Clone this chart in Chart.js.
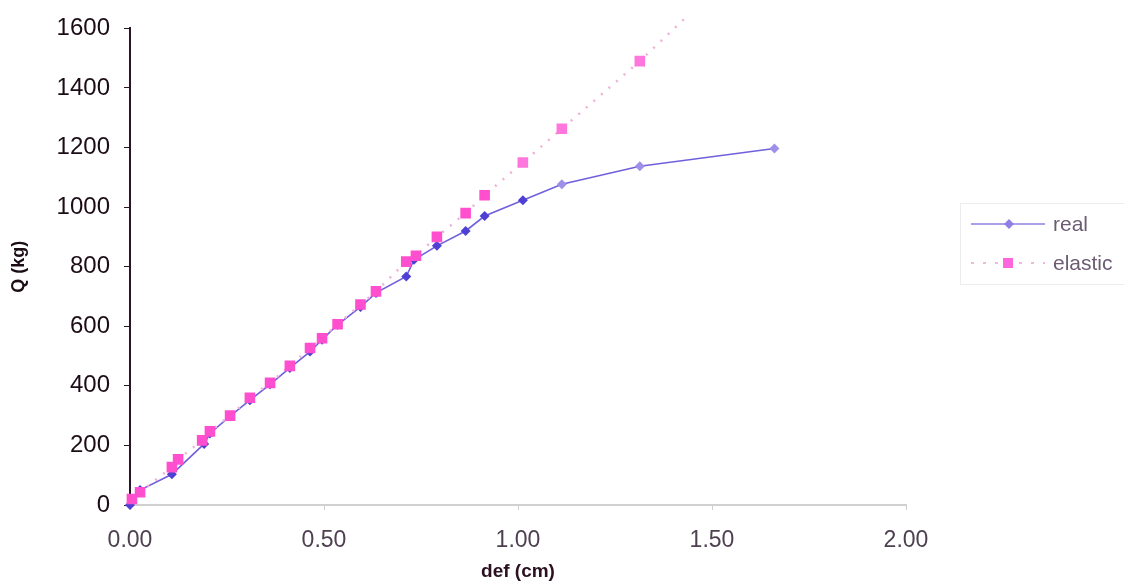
<!DOCTYPE html>
<html>
<head>
<meta charset="utf-8">
<script src="https://cdn.jsdelivr.net/npm/chart.js@4.4.1/dist/chart.umd.min.js"></script>
<style>
  html, body { margin: 0; padding: 0; background: #fff; }
  #wrap { position: relative; width: 1124px; height: 583px; }
  canvas { position: absolute; left: 0; top: 0; }
  #legend { position: absolute; left: 960px; top: 203px; width: 170px; height: 80px;
            border: 1px solid #ececec; font-family: "Liberation Sans", Arial, sans-serif;
            font-size: 21px; color: #6b5b73; }
  .row { position: absolute; left: 8px; height: 24px; }
  .row svg { position: absolute; left: 0; top: 0; }
  .row span { position: absolute; left: 84px; top: 0; line-height: 24px; }
</style>
</head>
<body>
<div id="wrap">
  <canvas id="c" width="1124" height="583"></canvas>
  <div id="legend">
    <div class="row" style="top:8px;">
      <svg width="80" height="24"><line x1="2" y1="12" x2="76" y2="12" stroke="#8f80e6" stroke-width="1.5"/>
        <polygon points="40,7 45,12 40,17 35,12" fill="#8f80e6"/></svg>
      <span>real</span>
    </div>
    <div class="row" style="top:47px;">
      <svg width="80" height="24"><line x1="2" y1="12" x2="76" y2="12" stroke="#f2b8dc" stroke-width="2" stroke-dasharray="3,9"/>
        <rect x="34" y="7" width="10" height="10" fill="#ff66dd"/></svg>
      <span>elastic</span>
    </div>
  </div>
</div>
<script>
// ---- data ----
const realDef = [0, 0.026, 0.108, 0.191, 0.206, 0.258, 0.309, 0.361, 0.412, 0.464, 0.495, 0.535, 0.594, 0.634, 0.712, 0.732, 0.791, 0.865, 0.914, 1.0125, 1.113, 1.314, 1.661];
const realQ   = [0, 50, 103, 205, 240, 298, 352, 405, 460, 515, 555, 605, 665, 712, 767, 823, 870, 920, 970, 1023, 1077, 1137, 1197];
const elasticDef = [0.005, 0.026, 0.108, 0.124, 0.186, 0.206, 0.258, 0.309, 0.361, 0.412, 0.464, 0.495, 0.535, 0.594, 0.634, 0.712, 0.737, 0.791, 0.865, 0.914, 1.0125, 1.113, 1.314, 1.439];
const elasticQ   = [20, 43, 127, 153, 217, 247, 300, 360, 410, 467, 527, 560, 607, 673, 717, 817, 837, 900, 980, 1040, 1150, 1263, 1490, 1645];
const xTicks = [0, 0.5, 1.0, 1.5, 2.0];
const yTicks = [0, 200, 400, 600, 800, 1000, 1200, 1400, 1600];
const seriesNames = ['real', 'elastic'];

const toPts = (xs, ys) => xs.map((x, i) => ({ x: x, y: ys[i] }));
const FONT = '"Liberation Sans", Arial, sans-serif';

new Chart(document.getElementById('c'), {
  type: 'scatter',
  data: {
    datasets: [
      {
        label: seriesNames[0],
        data: toPts(realDef, realQ),
        showLine: true,
        borderColor: '#7060dc',
        borderWidth: 1.6,
        pointStyle: 'rectRot',
        pointRadius: 5,
        pointBackgroundColor: ctx => (ctx.dataIndex > 19 ? '#a090ea' : '#4e40d4'),
        pointBorderColor: ctx => (ctx.dataIndex > 19 ? '#a090ea' : '#4e40d4'),
        pointBorderWidth: 0,
        clip: 8,
        order: 2
      },
      {
        label: seriesNames[1],
        data: toPts(elasticDef, elasticQ),
        showLine: true,
        borderColor: '#f0b0d8',
        borderWidth: 2.5,
        borderDash: [2, 8],
        pointStyle: 'rect',
        pointRadius: ctx => (ctx.raw && ctx.raw.y > 1600 ? 0 : 7.5),
        pointBackgroundColor: ctx => (ctx.dataIndex > 19 ? '#ff77dd' : '#ff4fcf'),
        pointBorderColor: ctx => (ctx.dataIndex > 19 ? '#ff77dd' : '#ff4fcf'),
        pointBorderWidth: 0,
        clip: { left: 8, top: 16, right: 8, bottom: 8 },
        order: 1
      }
    ]
  },
  options: {
    responsive: false,
    animation: false,
    layout: { padding: { left: 0, right: 218, top: 25, bottom: 0 } },
    plugins: { legend: { display: false }, tooltip: { enabled: false } },
    scales: {
      x: {
        type: 'linear',
        min: 0, max: 2,
        afterBuildTicks: s => { s.ticks = xTicks.map(v => ({ value: v })); },
        afterFit: s => { s.height = 78; },
        ticks: {
          font: { family: FONT, size: 23 },
          color: '#4e4050',
          padding: 17,
          callback: v => Number(v).toFixed(2)
        },
        grid: { drawOnChartArea: false, drawTicks: true, tickLength: 5, color: '#cfcfcf' },
        border: { display: true, color: '#d0d0d0', width: 2 },
        title: {
          display: true, text: 'def (cm)',
          font: { family: FONT, size: 19, weight: 'bold' },
          color: '#2a1020',
          padding: { top: 4, bottom: 0 }
        }
      },
      y: {
        type: 'linear',
        min: 0, max: 1600,
        afterBuildTicks: s => { s.ticks = yTicks.map(v => ({ value: v })); },
        afterFit: s => { s.width = 130; },
        ticks: {
          font: { family: FONT, size: 24 },
          color: '#1c0c16',
          padding: 14,
          callback: v => String(v)
        },
        grid: { drawOnChartArea: false, drawTicks: true, tickLength: 6, color: '#2a1525' },
        border: { display: true, color: '#2a1525', width: 2 },
        title: {
          display: true, text: 'Q (kg)',
          font: { family: FONT, size: 18, weight: 'bold' },
          color: '#1c0c16',
          padding: { top: 8, bottom: 4 }
        }
      }
    }
  }
});
</script>
</body>
</html>
